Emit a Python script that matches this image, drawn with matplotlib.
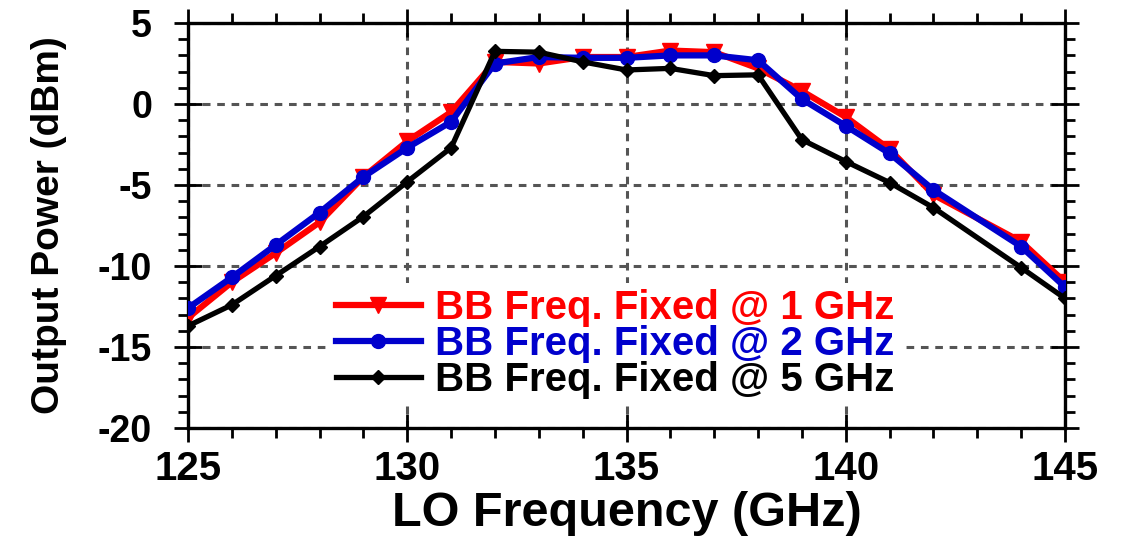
import matplotlib
matplotlib.use('Agg')
from matplotlib import pyplot as plt
from matplotlib.ticker import MultipleLocator

plt.rcParams['font.family'] = ['Liberation Sans', 'DejaVu Sans']
plt.rcParams['font.weight'] = 'bold'
plt.rcParams['axes.unicode_minus'] = False

lo_freq = [125, 126, 127, 128, 129, 130, 131, 132, 133, 134, 135, 136, 137, 138,
           139, 140, 141, 142, 144, 145]
bb1 = [-13.2, -11.0, -9.2, -7.3, -4.5, -2.3, -0.5, 2.6, 2.5, 2.9, 2.9, 3.3, 3.2, 2.2,
       0.8, -0.8, -2.8, -5.6, -8.5, -11.0]
bb2 = [-12.6, -10.7, -8.7, -6.7, -4.5, -2.7, -1.1, 2.5, 2.9, 2.85, 2.85, 3.0, 3.0, 2.7,
       0.3, -1.35, -3.05, -5.3, -8.8, -11.3]
bb5 = [-13.7, -12.4, -10.6, -8.8, -6.95, -4.8, -2.7, 3.25, 3.2, 2.6, 2.1, 2.2, 1.75, 1.8,
       -2.2, -3.55, -4.85, -6.4, -10.1, -12.0]
labels = ['BB Freq. Fixed @ 1 GHz', 'BB Freq. Fixed @ 2 GHz', 'BB Freq. Fixed @ 5 GHz']

fig = plt.figure(figsize=(11.34, 5.39), dpi=100)
ax = fig.add_axes([188 / 1134, 1 - 428 / 539, 877 / 1134, 405 / 539])

ax.plot(lo_freq, bb1, color='#ff0000', lw=4.5, marker='v', ms=11, label=labels[0], zorder=3)
ax.plot(lo_freq, bb2, color='#0000cc', lw=4.5, marker='o', ms=10, label=labels[1], zorder=4)
ax.plot(lo_freq, bb5, color='black', lw=3.8, marker='D', ms=7, label=labels[2], zorder=5)

ax.set_xlim(125, 145)
ax.set_ylim(-20, 5)
ax.xaxis.set_major_locator(MultipleLocator(5))
ax.xaxis.set_minor_locator(MultipleLocator(1))
ax.yaxis.set_major_locator(MultipleLocator(5))
ax.yaxis.set_minor_locator(MultipleLocator(1))
ax.grid(True, which='major', color='#555555', ls=(0, (2.5, 2.2)), lw=2.2, zorder=1)

for s in ax.spines.values():
    s.set_linewidth(2.4)
ax.tick_params(which='major', direction='inout', length=20, width=2,
               top=True, right=True)
ax.tick_params(which='minor', direction='out', length=7, width=2,
               top=True, right=True)
ax.tick_params(axis='x', which='major', labelsize=29, pad=6)
ax.tick_params(axis='y', which='major', labelsize=27, pad=16)

ax.set_xlabel('LO Frequency (GHz)', fontsize=35, fontweight='bold', labelpad=2)
ax.set_ylabel('Output Power (dBm)', fontsize=28, fontweight='bold', labelpad=22)

leg = ax.legend(loc='upper left', bbox_to_anchor=(0.162, 0.358), borderaxespad=0,
                frameon=True, facecolor='white', edgecolor='none',
                framealpha=1, fancybox=False, handlelength=2.1, handletextpad=0.35,
                labelspacing=-0.05, borderpad=0.15, labelcolor='linecolor',
                prop={'weight': 'bold', 'size': 29})
leg.set_zorder(6)

fig.savefig('out.png', dpi=100)
